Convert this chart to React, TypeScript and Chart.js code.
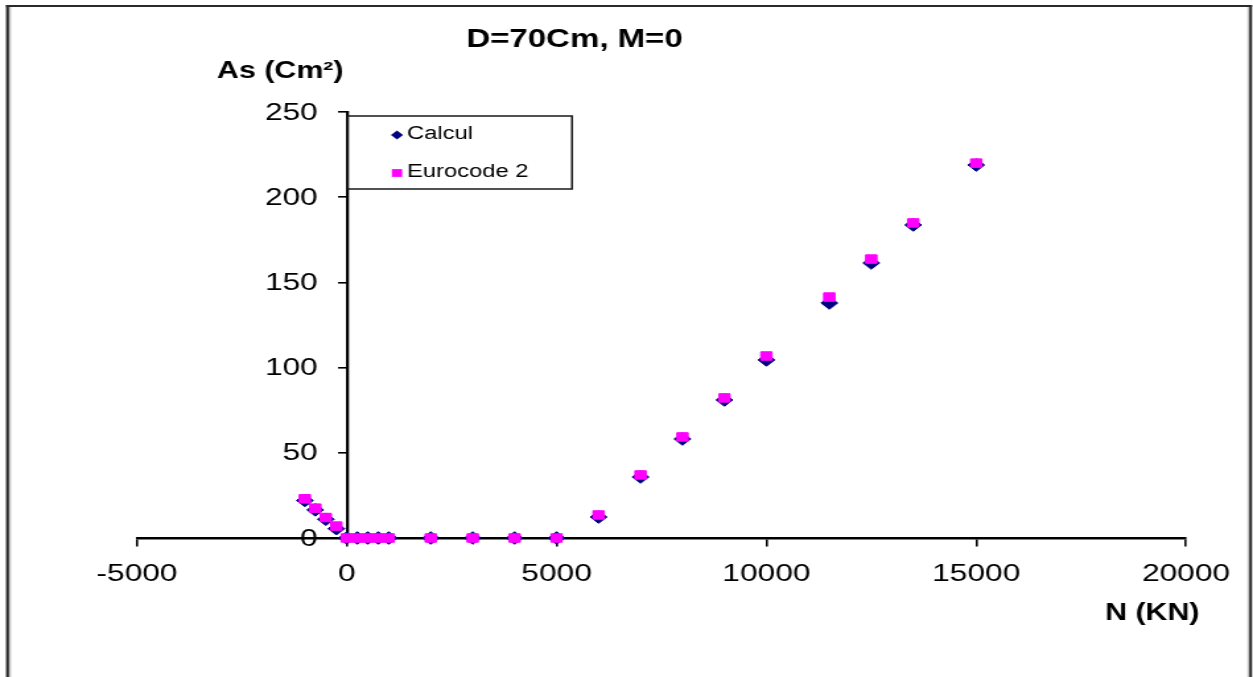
import React, { useEffect, useRef } from "react";
import { Chart, registerables } from "chart.js";

Chart.register(...registerables);

// ---- data ----
const chartTitle = "D=70Cm, M=0";
const xAxisTitle = "N (KN)";
const yAxisTitle = "As (Cm²)";
const seriesNames = ["Calcul", "Eurocode 2"];

const nValues = [
  -1000, -750, -500, -250, 0, 250, 500, 750, 1000, 2000, 3000, 4000, 5000,
  6000, 7000, 8000, 9000, 10000, 11500, 12500, 13500, 15000,
];
const calculAs = [
  22, 16.5, 11, 5.5, 0, 0, 0, 0, 0, 0, 0, 0, 0,
  12.3, 35.8, 58.1, 81, 104.5, 137.9, 161.4, 183.7, 218.9,
];
const eurocodeAs = [
  23, 17.5, 12, 7, 0, 0, 0, 0, 0, 0, 0, 0, 0,
  13.5, 37, 59.3, 82.2, 106.8, 141.4, 163.7, 184.9, 220,
];

const xTickValues = [-5000, 0, 5000, 10000, 15000, 20000];
const yTickValues = [0, 50, 100, 150, 200, 250];

// ---- geometry ----
const CW = 949; // bitmap width, shown stretched to 1253px
const CH = 677;
const SW = 1253;
const S = SW / CW;
const sx = (px: number) => px / S;

const FONT = "'Liberation Sans', Arial, sans-serif";

const framePlugin = {
  id: "frame",
  beforeDraw(chart: any) {
    const { ctx, width, height } = chart;
    ctx.save();
    ctx.fillStyle = "#ffffff";
    ctx.fillRect(0, 0, width, height);
    ctx.fillStyle = "#c4c4c4";
    ctx.fillRect(sx(9), 7, sx(2), height);
    ctx.fillRect(sx(1247.4), 7, sx(1.9), height);
    ctx.fillStyle = "#2b2b2b";
    ctx.fillRect(sx(6), 5, sx(3), height);
    ctx.fillRect(sx(6), 5, sx(1246), 2);
    ctx.fillRect(sx(1249.3), 5, sx(2.7), height);
    ctx.restore();
  },
};

// y tick labels sit a little to the left of the y axis, which crosses at N = 0
const yLabelPlugin = {
  id: "yLabels",
  afterDraw(chart: any) {
    const { ctx } = chart;
    const yScale = chart.scales.y;
    const xScale = chart.scales.x;
    const axisX = xScale.getPixelForValue(0);
    ctx.save();
    ctx.fillStyle = "#000";
    ctx.font = `24px ${FONT}`;
    ctx.textAlign = "right";
    ctx.textBaseline = "middle";
    yScale.ticks.forEach((t: any) => {
      ctx.fillText(String(t.value), axisX - sx(29), yScale.getPixelForValue(t.value) + 1);
    });
    ctx.restore();
  },
};

const textPlugin = {
  id: "texts",
  afterDraw(chart: any) {
    const { ctx } = chart;
    ctx.save();
    ctx.fillStyle = "#000";
    ctx.textBaseline = "middle";
    ctx.font = `bold 25px ${FONT}`;
    ctx.textAlign = "center";
    ctx.fillText(chartTitle, sx(574.5), 40);
    ctx.font = `bold 23px ${FONT}`;
    ctx.textAlign = "left";
    ctx.fillText(yAxisTitle, sx(217), 72);
    ctx.fillText(xAxisTitle, sx(1105), 614);
    ctx.restore();
  },
};

const legendPlugin = {
  id: "boxLegend",
  afterDraw(chart: any) {
    const { ctx } = chart;
    const left = sx(348);
    const right = sx(572);
    const top = 116;
    const bottom = 189;
    ctx.save();
    ctx.fillStyle = "#fff";
    ctx.fillRect(left, top, right - left, bottom - top);
    ctx.strokeStyle = "#1a1a1a";
    ctx.lineWidth = 1.5;
    ctx.strokeRect(left, top, right - left, bottom - top);
    const rows = [134, 172];
    chart.data.datasets.forEach((ds: any, i: number) => {
      const y = rows[i];
      const mx = sx(397);
      ctx.fillStyle = ds.backgroundColor;
      ctx.beginPath();
      if (ds.pointStyle === "rectRot") {
        const r = 4.6;
        ctx.moveTo(mx - r, y + 1);
        ctx.lineTo(mx, y + 1 - r);
        ctx.lineTo(mx + r, y + 1);
        ctx.lineTo(mx, y + 1 + r);
        ctx.closePath();
      } else {
        const h = 3.9;
        ctx.rect(mx - h, y + 1 - h, 2 * h, 2 * h);
      }
      ctx.fill();
      ctx.fillStyle = "#000";
      ctx.font = `18px ${FONT}`;
      ctx.textAlign = "left";
      ctx.textBaseline = "middle";
      ctx.fillText(ds.label, sx(407), y);
    });
    ctx.restore();
  },
};

export default function App() {
  const ref = useRef<HTMLCanvasElement>(null);

  useEffect(() => {
    const canvas = ref.current;
    if (!canvas) return;
    const tickFont = { family: FONT, size: 24 };
    const chart = new Chart(canvas, {
      type: "scatter",
      data: {
        datasets: [
          {
            label: seriesNames[0],
            data: nValues.map((x, i) => ({ x, y: calculAs[i] })),
            pointStyle: "rectRot",
            pointRadius: 6.3,
            backgroundColor: "#000080",
            borderColor: "#000080",
            borderWidth: 1,
            order: 2,
            clip: false,
          },
          {
            label: seriesNames[1],
            data: nValues.map((x, i) => ({ x, y: eurocodeAs[i] })),
            pointStyle: "rect",
            pointRadius: 6,
            backgroundColor: "#ff00ff",
            borderColor: "#ff00ff",
            borderWidth: 1,
            order: 1,
            clip: false,
          },
        ],
      } as any,
      options: {
        responsive: false,
        animation: false,
        devicePixelRatio: 1,
        events: [],
        layout: { padding: { left: sx(137), right: CW - sx(1186), top: 112, bottom: CH - 538 } },
        plugins: {
          legend: { display: false },
          title: { display: false },
          tooltip: { enabled: false },
        },
        scales: {
          x: {
            type: "linear",
            position: { y: 0 } as any,
            min: -5000,
            max: 20000,
            afterBuildTicks: (s: any) => {
              s.ticks = xTickValues.map((value) => ({ value }));
            },
            ticks: {
              callback: (v: any) => String(v),
              font: tickFont,
              color: "#000",
              padding: 15,
              maxRotation: 0,
              autoSkip: false,
            },
            grid: {
              display: true,
              drawOnChartArea: false,
              drawTicks: true,
              tickLength: 7,
              color: "#000",
              lineWidth: 1.6,
            },
            border: { display: true, color: "#000", width: 2.5 },
          },
          y: {
            type: "linear",
            position: { x: 0 } as any,
            min: 0,
            max: 250,
            afterBuildTicks: (s: any) => {
              s.ticks = yTickValues.map((value) => ({ value }));
            },
            ticks: {
              display: false,
              autoSkip: false,
            },
            grid: {
              display: true,
              drawOnChartArea: false,
              drawTicks: true,
              tickLength: 6,
              color: "#000",
              lineWidth: 1.6,
            },
            border: { display: true, color: "#000", width: 2.3 },
          },
        },
      } as any,
      plugins: [framePlugin, yLabelPlugin, textPlugin, legendPlugin],
    });
    return () => chart.destroy();
  }, []);

  return (
    <div style={{ position: "fixed", left: 0, top: 0, width: SW, height: CH, background: "#fff" }}>
      <canvas
        ref={ref}
        width={CW}
        height={CH}
        style={{ width: `${SW}px`, height: `${CH}px`, display: "block" }}
      />
    </div>
  );
}
